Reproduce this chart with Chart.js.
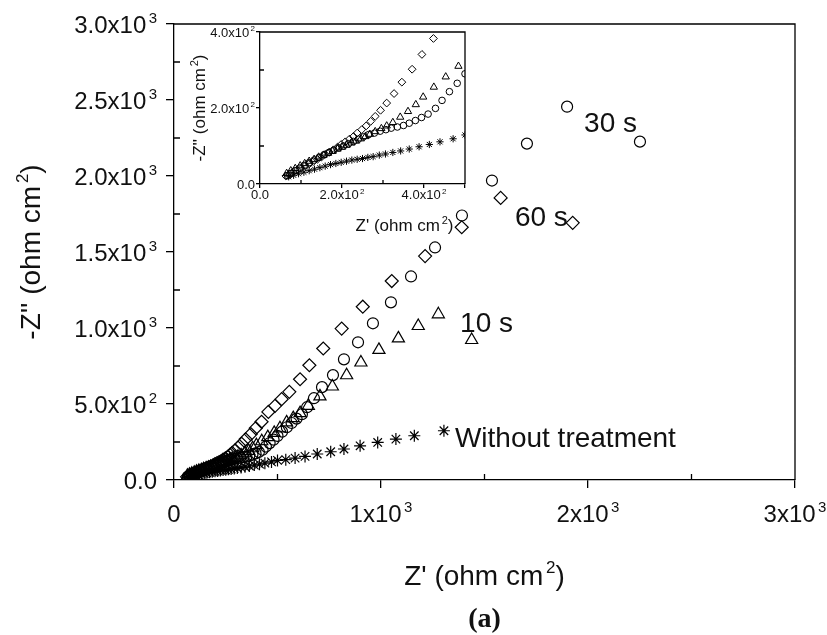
<!DOCTYPE html>
<html>
<head>
<meta charset="utf-8">
<script src="https://cdn.jsdelivr.net/npm/chart.js@4/dist/chart.umd.min.js"></script>
<style>
  body { margin: 0; background: #fff; }
  #wrap { position: relative; width: 827px; height: 635px; }
  #wrap canvas { position: absolute; left: 0; top: 0; }
</style>
</head>
<body>
<div id="wrap">
  <canvas id="main" width="827" height="635"></canvas>
  <canvas id="inset" width="827" height="635"></canvas>
</div>
<script>
// Nyquist data, Z' and -Z'' in ohm cm2
const zReNone = [70, 82, 94, 107, 120, 133, 146, 159, 172, 185, 198, 211, 224, 237, 250, 263, 276, 291, 306, 324, 343, 364, 388, 413, 439, 471, 500, 540, 585, 633, 692, 757, 821, 899, 984, 1072, 1161, 1304];
const zImNone = [19, 23, 27, 31, 35, 39, 43, 47, 51, 54, 57, 60, 63, 65, 67, 70, 72, 76, 79, 83, 87, 92, 98, 104, 111, 119, 129, 134, 144, 155, 171, 186, 204, 225, 247, 269, 291, 324];

const zRe10 = [65, 75, 86, 98, 109, 120, 132, 143, 155, 166, 177, 189, 200, 211, 223, 234, 246, 257, 268, 281, 296, 309, 324, 342, 361, 380, 398, 424, 453, 484, 512, 544, 576, 609, 649, 705, 765, 834, 903, 990, 1084, 1180, 1277, 1438];
const zIm10 = [28, 35, 41, 48, 54, 60, 65, 71, 76, 81, 86, 92, 97, 102, 108, 113, 119, 125, 131, 138, 146, 153, 162, 176, 191, 209, 229, 255, 282, 310, 340, 379, 407, 440, 488, 550, 615, 689, 773, 856, 932, 1013, 1090, 921];

const zRe30 = [67, 76, 86, 97, 108, 120, 132, 144, 156, 168, 180, 192, 204, 216, 228, 240, 252, 265, 279, 293, 307, 320, 335, 350, 364, 379, 394, 410, 428, 444, 462, 481, 500, 522, 545, 568, 592, 618, 643, 676, 715, 768, 821, 889, 961, 1048, 1145, 1261, 1391, 1536, 1705, 1899, 2251];
const zIm30 = [22, 28, 35, 42, 49, 56, 63, 70, 77, 83, 89, 95, 100, 106, 112, 118, 124, 130, 134, 139, 143, 147, 150, 154, 160, 167, 175, 184, 199, 220, 243, 265, 290, 318, 347, 375, 404, 433, 479, 538, 611, 690, 794, 906, 1031, 1169, 1339, 1530, 1740, 1970, 2213, 2456, 2226];

const zRe60 = [63, 72, 81, 91, 101, 111, 120, 130, 140, 150, 159, 169, 179, 189, 198, 208, 218, 228, 237, 248, 259, 270, 281, 294, 309, 327, 346, 371, 395, 423, 456, 488, 520, 557, 609, 654, 721, 810, 912, 1052, 1213, 1390, 1578, 1926];
const zIm60 = [21, 26, 32, 37, 42, 48, 53, 59, 65, 71, 78, 84, 90, 97, 104, 111, 118, 125, 134, 143, 153, 165, 178, 194, 213, 238, 268, 302, 341, 383, 448, 488, 532, 580, 663, 755, 865, 996, 1140, 1309, 1473, 1663, 1856, 1692];

const seriesNames = ['Without treatment', '10 s', '30 s', '60 s'];
// where each series name is written, in data units (left end, baseline)
const nameAtRe = [1357, 1382, 1981, 1647];
const nameAtIm = [217, 972, 2291, 1668];

const mainXTicks = [0, 1000, 2000, 3000];
const mainXLabels = ['0', '1x10^3', '2x10^3', '3x10^3'];
const mainYTicks = [0, 500, 1000, 1500, 2000, 2500, 3000];
const mainYLabels = ['0.0', '5.0x10^2', '1.0x10^3', '1.5x10^3', '2.0x10^3', '2.5x10^3', '3.0x10^3'];
const mainXMinor = [500, 1500, 2500];
const mainYMinor = [250, 750, 1250, 1750, 2250, 2750];

const insetTicks = [0, 200, 400];
const insetLabels = ['0.0', '2.0x10^2', '4.0x10^2'];
const insetMinor = [100, 300];

const FONT = '"Liberation Sans", Arial, Helvetica, sans-serif';

function pairs(xs, ys) {
  return xs.map((x, i) => ({ x: x, y: ys[i] }));
}

// text with ^n superscripts, y is the baseline
function richText(ctx, label, x, y, size, align) {
  const parts = label.split(/\^(\w)/);
  const sup = Math.round(size * 0.62);
  let widths = [];
  let total = 0;
  parts.forEach((p, i) => {
    ctx.font = (i % 2 ? sup : size) + 'px ' + FONT;
    let w = ctx.measureText(p).width + (i % 2 && p ? size * 0.1 : 0);
    widths.push(w);
    total += w;
  });
  let cx = align === 'right' ? x - total : align === 'center' ? x - total / 2 : x;
  ctx.textAlign = 'left';
  ctx.textBaseline = 'alphabetic';
  parts.forEach((p, i) => {
    if (i % 2) {
      ctx.font = sup + 'px ' + FONT;
      ctx.fillText(p, cx + size * 0.1, y - size * 0.42);
    } else {
      ctx.font = size + 'px ' + FONT;
      ctx.fillText(p, cx, y);
    }
    cx += widths[i];
  });
}

function makeDatasets(scale, lw) {
  return [
    { data: pairs(zReNone, zImNone), pointStyle: 'star', pointRadius: 6 * scale },
    { data: pairs(zRe10, zIm10), pointStyle: 'triangle', pointRadius: 7 * scale },
    { data: pairs(zRe30, zIm30), pointStyle: 'circle', pointRadius: 5.5 * scale },
    { data: pairs(zRe60, zIm60), pointStyle: 'rectRot', pointRadius: 6.5 * scale }
  ].map(d => Object.assign(d, {
    showLine: false,
    borderColor: '#000',
    backgroundColor: 'rgba(0,0,0,0)',
    borderWidth: lw,
    pointBorderWidth: lw,
    clip: 0
  }));
}

function axisOpts(min, max, step, size) {
  return {
    type: 'linear', min: min, max: max,
    ticks: { display: false, stepSize: step },
    grid: { drawOnChartArea: false, drawTicks: true, tickLength: size, color: '#000', lineWidth: 1.3 },
    border: { display: true, color: '#000', width: 1.3 }
  };
}

// box, inward minor ticks, tick labels and titles
function decorate(cfg) {
  return {
    id: 'decor',
    afterDraw(chart) {
      const ctx = chart.ctx;
      const a = chart.chartArea;
      const xs = chart.scales.x, ys = chart.scales.y;
      ctx.save();
      ctx.strokeStyle = '#000';
      ctx.lineWidth = 1.3;
      ctx.beginPath();
      ctx.moveTo(a.left, a.top); ctx.lineTo(a.right, a.top); ctx.lineTo(a.right, a.bottom);
      cfg.xMinor.forEach(v => {
        const px = xs.getPixelForValue(v);
        ctx.moveTo(px, a.bottom); ctx.lineTo(px, a.bottom - cfg.minor);
      });
      cfg.yMinor.forEach(v => {
        const py = ys.getPixelForValue(v);
        ctx.moveTo(a.left, py); ctx.lineTo(a.left + cfg.minor, py);
      });
      ctx.stroke();

      ctx.fillStyle = '#111';
      cfg.xTicks.forEach((v, i) => {
        richText(ctx, cfg.xLabels[i], xs.getPixelForValue(v), a.bottom + cfg.xLabelDy, cfg.tickSize, 'center');
      });
      cfg.yTicks.forEach((v, i) => {
        richText(ctx, cfg.yLabels[i], a.left - cfg.yLabelDx, ys.getPixelForValue(v) + cfg.tickSize * 0.36, cfg.tickSize, 'right');
      });

      richText(ctx, "Z' (ohm cm^2)", (a.left + a.right) / 2 + cfg.xTitleDx, a.bottom + cfg.xTitleDy, cfg.titleSize, 'center');
      ctx.save();
      ctx.translate(cfg.yTitleX, (a.top + a.bottom) / 2 + cfg.yTitleDy);
      ctx.rotate(-Math.PI / 2);
      richText(ctx, "-Z'' (ohm cm^2)", 0, cfg.titleSize * 0.36, cfg.titleSize, 'center');
      ctx.restore();

      if (cfg.names) {
        seriesNames.forEach((n, i) => {
          ctx.font = '28px ' + FONT;
          ctx.textAlign = 'left';
          ctx.fillText(n, xs.getPixelForValue(nameAtRe[i]), ys.getPixelForValue(nameAtIm[i]));
        });
        ctx.font = 'bold 28px "Liberation Serif", "Times New Roman", serif';
        ctx.textAlign = 'center';
        ctx.fillText('(a)', (a.left + a.right) / 2, 627);
      }
      ctx.restore();
    }
  };
}

Chart.defaults.animation = false;

new Chart(document.getElementById('main'), {
  type: 'scatter',
  data: { datasets: makeDatasets(1, 1.2) },
  options: {
    responsive: false,
    layout: { padding: { left: 0, top: 24, right: 32, bottom: 0 } },
    plugins: { legend: { display: false }, tooltip: { enabled: false } },
    scales: {
      x: Object.assign(axisOpts(0, 3000, 1000, 8), { afterFit: s => { s.height = 155; } }),
      y: Object.assign(axisOpts(0, 3000, 500, 8), { afterFit: s => { s.width = 174; } })
    }
  },
  plugins: [decorate({
    xTicks: mainXTicks, xLabels: mainXLabels, yTicks: mainYTicks, yLabels: mainYLabels,
    xMinor: mainXMinor, yMinor: mainYMinor, minor: 6,
    tickSize: 24, xLabelDy: 42, yLabelDx: 17,
    titleSize: 28, xTitleDy: 105, xTitleDx: 0, yTitleX: 30, yTitleDy: 0, names: true
  })]
});

new Chart(document.getElementById('inset'), {
  type: 'scatter',
  data: { datasets: makeDatasets(0.6, 1) },
  options: {
    responsive: false,
    layout: { padding: { left: 200, top: 32, right: 362, bottom: 411 } },
    plugins: { legend: { display: false }, tooltip: { enabled: false } },
    scales: {
      x: Object.assign(axisOpts(0, 500, 200, 4), { afterFit: s => { s.height = 40; } }),
      y: Object.assign(axisOpts(0, 400, 200, 4), { afterFit: s => { s.width = 60; } })
    }
  },
  plugins: [decorate({
    xTicks: insetTicks, xLabels: insetLabels, yTicks: insetTicks, yLabels: insetLabels,
    xMinor: insetMinor, yMinor: insetMinor, minor: 4,
    tickSize: 13, xLabelDy: 15, yLabelDx: 5,
    titleSize: 17, xTitleDy: 47, xTitleDx: 42, yTitleX: 199, yTitleDy: 0, names: false
  })]
});
</script>
</body>
</html>
